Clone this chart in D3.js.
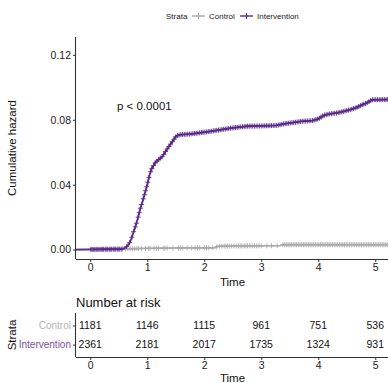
<!DOCTYPE html>
<html lang="en">
<head>
<meta charset="UTF-8">
<title>Cumulative hazard</title>
<script src="https://d3js.org/d3.v7.min.js"></script>
<style>
  body { margin: 0; background: #fff; font-family: "Liberation Sans", Arial, sans-serif; }
  .axis path, .axis line { stroke: #333; }
  .axis text { font-family: "Liberation Sans", Arial, sans-serif; }
</style>
</head>
<body>
<div id="chart"></div>
<script>
// groups and colours
const groups = ["Control", "Intervention"];
const colors = ["#aaaaaa", "#5b2a8a"];

// cumulative hazard curves
const controlTime = [-0.25, 0.60, 1.00, 1.60, 2.18, 2.25, 2.80, 3.33, 3.38, 5.25];
const controlHaz  = [0, 0.0004, 0.0008, 0.0010, 0.0011, 0.0021, 0.0023, 0.0024, 0.0030, 0.0030];

const interTime = [-0.25, 0.55, 0.62, 0.68, 0.72, 0.76, 0.80, 0.84, 0.88, 0.92, 0.96, 1.00, 1.04, 1.08,
                   1.14, 1.20, 1.27, 1.33, 1.39, 1.45, 1.51, 1.58, 1.75, 1.93, 2.10, 2.28, 2.46, 2.62,
                   2.75, 3.00, 3.27, 3.40, 3.55, 3.70, 3.90, 4.00, 4.10, 4.20, 4.33, 4.45, 4.56, 4.67,
                   4.77, 4.86, 4.94, 5.25];
const interHaz  = [0, 0.0003, 0.0012, 0.0035, 0.0065, 0.0110, 0.0150, 0.0200, 0.0255, 0.0300, 0.0350,
                   0.0400, 0.0460, 0.0500, 0.0535, 0.0555, 0.0575, 0.0610, 0.0640, 0.0670, 0.0700,
                   0.0708, 0.0712, 0.0720, 0.0728, 0.0738, 0.0748, 0.0755, 0.0760, 0.0762, 0.0765,
                   0.0775, 0.0782, 0.0790, 0.0795, 0.0805, 0.0828, 0.0836, 0.0842, 0.0852, 0.0862,
                   0.0875, 0.0892, 0.0905, 0.0923, 0.0925];

// censoring times (the "+" marks)
const controlCensor = [0.62, 0.66, 0.70, 0.74, 0.78, 0.82, 0.85, 0.90, 0.97, 1.02, 1.05, 1.12, 1.16, 1.20,
                       1.28, 1.31, 1.35, 1.45, 1.55, 1.58, 1.62, 1.70, 1.78, 1.84, 1.88, 1.92, 2.00, 2.04,
                       2.08, 2.15, 2.22, 2.27, 2.31, 2.35, 2.38, 2.41, 2.44, 2.48, 2.52, 2.56, 2.60, 2.63,
                       2.66, 2.70, 2.73, 2.76, 2.80, 2.84, 2.88, 2.92, 2.96, 3.00, 3.10, 3.18, 3.28, 3.38,
                       3.41, 3.44, 3.47, 3.50, 3.53, 3.56, 3.59, 3.62, 3.65, 3.68, 3.71, 3.74, 3.77, 3.80,
                       3.83, 3.86, 3.89, 3.92, 3.95, 3.98, 4.01, 4.04, 4.07, 4.10, 4.13, 4.16, 4.19, 4.22,
                       4.25, 4.28, 4.31, 4.34, 4.37, 4.40, 4.43, 4.46, 4.49, 4.52, 4.55, 4.58, 4.61, 4.64,
                       4.67, 4.70, 4.73, 4.76, 4.79, 4.82, 4.85, 4.88, 4.91, 4.94, 4.97, 5.00, 5.03, 5.06,
                       5.09, 5.12, 5.15, 5.18, 5.21];
const interCensor = [0.01, 0.03, 0.05, 0.07, 0.10, 0.12, 0.14, 0.17, 0.19, 0.21, 0.23, 0.26, 0.28, 0.30,
                     0.33, 0.35, 0.37, 0.40, 0.42, 0.44, 0.47, 0.49, 0.51, 0.54, 0.56, 0.64, 0.69, 0.73,
                     0.76, 0.79, 0.81, 0.84, 0.86, 0.88, 0.90, 0.93, 0.95, 0.97, 0.99, 1.01, 1.03, 1.06,
                     1.08, 1.11, 1.14, 1.17, 1.20, 1.23, 1.26, 1.29, 1.32, 1.35, 1.38, 1.41, 1.44, 1.47,
                     1.50, 1.53, 1.56, 1.59, 1.62, 1.65, 1.68, 1.71, 1.74, 1.77, 1.80, 1.83, 1.86, 1.89,
                     1.92, 1.95, 1.98, 2.01, 2.04, 2.07, 2.10, 2.13, 2.16, 2.19, 2.22, 2.25, 2.28, 2.31,
                     2.34, 2.37, 2.40, 2.43, 2.46, 2.49, 2.52, 2.55, 2.58, 2.61, 2.64, 2.67, 2.70, 2.73,
                     2.76, 2.79, 2.82, 2.85, 2.88, 2.91, 2.94, 2.97, 3.00, 3.03, 3.06, 3.09, 3.12, 3.15,
                     3.18, 3.21, 3.24, 3.27, 3.30, 3.33, 3.36, 3.39, 3.42, 3.45, 3.48, 3.51, 3.54, 3.57,
                     3.60, 3.63, 3.66, 3.69, 3.72, 3.75, 3.78, 3.81, 3.84, 3.87, 3.90, 3.93, 3.96, 3.99,
                     4.02, 4.05, 4.08, 4.11, 4.14, 4.17, 4.20, 4.23, 4.26, 4.29, 4.32, 4.35, 4.38, 4.41,
                     4.44, 4.47, 4.50, 4.53, 4.56, 4.59, 4.62, 4.65, 4.68, 4.71, 4.74, 4.77, 4.80, 4.83,
                     4.86, 4.89, 4.92, 4.95, 4.98, 5.01, 5.04, 5.07, 5.10, 5.13, 5.16, 5.19, 5.22];

// number at risk table
const riskTimes = [0, 1, 2, 3, 4, 5];
const controlRisk = [1181, 1146, 1115, 961, 751, 536];
const interRisk = [2361, 2181, 2017, 1735, 1324, 931];

const xTicks = [0, 1, 2, 3, 4, 5];
const yTicks = [0, 0.04, 0.08, 0.12];

const W = 388, H = 383;
const svg = d3.select("#chart").append("svg").attr("width", W).attr("height", H);

const x = d3.scaleLinear().domain([-0.25, 5.25]).range([76, 389.5]);
const y = d3.scaleLinear().domain([-0.0058, 0.1310]).range([259, 37]);

// axes
const yAxis = svg.append("g").attr("class", "axis").attr("transform", "translate(76,0)")
  .call(d3.axisLeft(y).tickValues(yTicks).tickFormat(d3.format(".2f")).tickSize(3).tickPadding(2));
const xAxis = svg.append("g").attr("class", "axis").attr("transform", "translate(0,259)")
  .call(d3.axisBottom(x).tickValues(xTicks).tickFormat(d3.format("d")).tickSize(3).tickPadding(2));
[yAxis, xAxis].forEach(a => {
  a.select(".domain").attr("stroke-width", 1.1);
  a.selectAll(".tick line").attr("stroke-width", 1);
  a.selectAll("text").style("font-size", "10.5px").style("fill", "#222");
});
xAxis.select(".domain").attr("d", "M76,0.5H389");
yAxis.select(".domain").attr("d", "M-0.5,37V259");

// curves
const line = d3.line().x(d => x(d[0])).y(d => y(d[1]));
const curves = [
  { t: controlTime, h: controlHaz, c: controlCensor, col: colors[0] },
  { t: interTime, h: interHaz, c: interCensor, col: colors[1] }
];
const hazAt = (cv, t) => {
  const i = d3.bisectRight(cv.t, t) - 1;
  if (i >= cv.t.length - 1) return cv.h[cv.h.length - 1];
  const f = (t - cv.t[i]) / (cv.t[i + 1] - cv.t[i]);
  return cv.h[i] + f * (cv.h[i + 1] - cv.h[i]);
};
curves.forEach(cv => {
  svg.append("path")
    .datum(cv.t.map((t, i) => [t, cv.h[i]]))
    .attr("d", line)
    .attr("fill", "none")
    .attr("stroke", cv.col)
    .attr("stroke-width", 1.8);
  svg.append("g").selectAll("path")
    .data(cv.c)
    .join("path")
    .attr("d", t => {
      const px = x(t), py = y(hazAt(cv, t));
      return `M${px - 2.5},${py}H${px + 2.5}M${px},${py - 2.5}V${py + 2.5}`;
    })
    .attr("stroke", cv.col)
    .attr("stroke-width", 0.9);
});

// p-value
svg.append("text").attr("x", 117).attr("y", 109.5)
  .style("font-size", "11.5px").attr("fill", "#111").text("p < 0.0001");

// axis titles
svg.append("text").attr("x", 232.5).attr("y", 285.5).attr("text-anchor", "middle")
  .style("font-size", "11.5px").attr("fill", "#111").text("Time");
svg.append("text").attr("transform", "translate(16,148) rotate(-90)").attr("text-anchor", "middle")
  .style("font-size", "11.5px").attr("fill", "#111").text("Cumulative hazard");

// legend
const leg = svg.append("g").style("font-size", "8px");
leg.append("text").attr("x", 166).attr("y", 19).attr("fill", "#222").text("Strata");
const legX = [192, 240];
groups.forEach((g, i) => {
  const lx = legX[i];
  leg.append("path").attr("d", `M${lx},16H${lx + 13}`).attr("stroke", colors[i]).attr("stroke-width", 1.4);
  leg.append("path").attr("d", `M${lx + 6.5},13V19`).attr("stroke", colors[i]).attr("stroke-width", 1.2);
  leg.append("text").attr("x", lx + 17).attr("y", 19).attr("fill", "#222").text(g);
});

// risk table
svg.append("text").attr("x", 76).attr("y", 306.5).style("font-size", "13px").attr("fill", "#111")
  .text("Number at risk");
const ty = d3.scalePoint().domain(groups).range([313, 357]).padding(0.65);
const tyAxis = svg.append("g").attr("class", "axis").attr("transform", "translate(76,0)")
  .call(d3.axisLeft(ty).tickSize(3).tickPadding(2));
tyAxis.select(".domain").attr("d", "M-0.5,313V357").attr("stroke-width", 1.1);
tyAxis.selectAll("text").style("font-size", "10px").style("fill", (d, i) => i ? "#7a52a0" : "#b5b5b5");
const txAxis = svg.append("g").attr("class", "axis").attr("transform", "translate(0,357)")
  .call(d3.axisBottom(x).tickValues(xTicks).tickFormat(d3.format("d")).tickSize(3).tickPadding(2));
txAxis.select(".domain").attr("d", "M76,0.5H389").attr("stroke-width", 1.1);
txAxis.selectAll("text").style("font-size", "10.5px").style("fill", "#222");

const riskRows = [controlRisk, interRisk];
riskRows.forEach((row, gi) => {
  svg.append("g").selectAll("text")
    .data(row)
    .join("text")
    .attr("x", (d, i) => x(riskTimes[i]))
    .attr("y", ty(groups[gi]) + 3.8)
    .attr("text-anchor", "middle")
    .style("font-size", "10.5px")
    .attr("fill", "#111")
    .text(d => d);
});

svg.append("text").attr("x", 232.5).attr("y", 381.5).attr("text-anchor", "middle")
  .style("font-size", "11.5px").attr("fill", "#111").text("Time");
svg.append("text").attr("transform", "translate(16,335) rotate(-90)").attr("text-anchor", "middle")
  .style("font-size", "11.5px").attr("fill", "#111").text("Strata");
</script>
</body>
</html>
